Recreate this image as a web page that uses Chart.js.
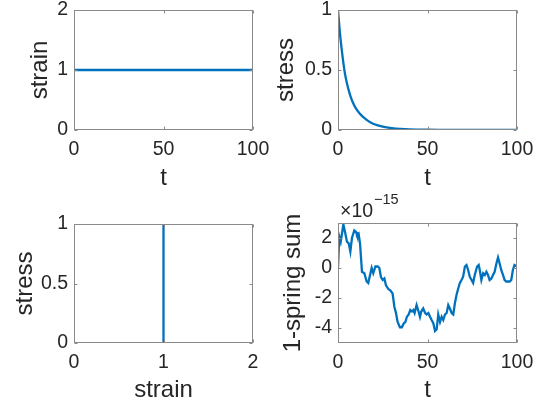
<!DOCTYPE html>
<html>
<head>
<meta charset="utf-8">
<script src="https://cdn.jsdelivr.net/npm/chart.js@4.4.1/dist/chart.umd.min.js"></script>
<style>
  html, body { margin: 0; padding: 0; background: #fff; }
  #fig { position: relative; width: 541px; height: 407px; }
  #fig canvas { position: absolute; }
</style>
</head>
<body>
<div id="fig">
  <canvas id="strainT" width="270" height="200" style="left:0;top:0"></canvas>
  <canvas id="stressT" width="271" height="200" style="left:270px;top:0"></canvas>
  <canvas id="stressStrain" width="270" height="217" style="left:0;top:190px"></canvas>
  <canvas id="springSum" width="271" height="217" style="left:270px;top:190px"></canvas>
</div>
<script>
// strain vs t (constant)
const strainTime = [0, 100];
const strainVals = [1, 1];

// stress relaxation
const stressTime = [0, 1, 2, 3, 4, 5, 6, 7, 8, 10, 12, 14, 16, 18, 20, 25, 30, 35, 40, 50, 60, 70, 80, 90, 100];
const stressVals = [1, 0.82, 0.68, 0.56, 0.46, 0.39, 0.33, 0.28, 0.24, 0.18, 0.14, 0.11, 0.085, 0.065, 0.05, 0.028, 0.016, 0.009, 0.005, 0.002, 0.001, 0, 0, 0, 0];

// stress vs strain (vertical line at strain = 1)
const ssStrain = [1, 1];
const ssStress = [0, 1];

// 1 - spring sum, in units of 1e-15
const sumExponent = -15;
const sumTime = [0, 0.7, 1.5, 2.1, 3.0, 4.1, 5.0, 6.0, 6.9, 7.8, 9.1, 10.1, 10.6, 11.5, 12.3, 13.4, 14.7, 16.0, 16.9, 17.9,
  18.8, 19.7, 20.9, 22.2, 23.1, 24.0, 25.0, 25.9, 26.8, 28.1, 29.3, 30.5, 31.5, 32.4, 33.3, 34.6, 35.7, 36.7, 37.6, 38.5,
  39.5, 40.4, 41.3, 42.1, 42.8, 43.9, 45.0, 45.8, 46.5, 47.6, 48.7, 49.5, 50.5, 51.4, 52.3, 53.3, 54.2, 55.1, 56.0, 57.0,
  57.9, 58.8, 59.8, 60.7, 61.6, 62.5, 63.5, 64.4, 65.3, 66.2, 67.2, 68.1, 69.0, 69.9, 70.9, 71.8, 72.7, 73.6, 74.6, 75.5,
  76.4, 77.7, 78.6, 79.2, 80.1, 81.1, 82.0, 82.9, 83.8, 84.7, 85.7, 86.6, 87.5, 88.5, 89.4, 90.3, 91.2, 92.2, 93.1, 94.0,
  95.9, 96.8, 97.7, 98.6, 100];
const sumVals = [0, 2.1, 1.75, 2.2, 2.9, 2.3, 1.75, 1.65, 1.1, 2.0, 2.5, 2.4, 2.2, 2.3, 1.65, -0.25, -0.35, -0.9, -1.0, -0.47,
  0, -0.35, 0.1, 0.1, 0, -0.6, -0.8, -0.7, -1.15, -1.4, -1.5, -1.7, -2.6, -3.0, -3.6, -3.95, -3.95, -3.7, -3.6, -3.25,
  -3.1, -2.8, -2.9, -2.8, -3.0, -2.47, -2.9, -3.25, -2.9, -2.7, -3.0, -3.1, -3.0, -3.25, -3.47, -3.7, -4.2, -4.1, -3.1, -3.6,
  -3.25, -3.47, -3.1, -3.0, -2.47, -2.7, -3.0, -3.1, -2.35, -1.8, -1.35, -1.0, -0.8, -0.58, 0.1, 0.2, -0.13, -0.58, -0.8, -1.0,
  -0.47, 0.1, 0.2, -0.13, -0.8, -0.35, -0.47, -0.25, -0.47, -0.8, -0.7, -0.47, -0.25, 0.3, 0.7, 0.3, -0.13, -0.47, -0.8, -0.9,
  -0.9, -0.8, -0.13, 0.2, 0.1];

// tick labels
const tTicks = [0, 50, 100];
const strainTicks = [0, 1, 2];
const stressTicks = [0, 0.5, 1];
const sumTicks = [-4, -2, 0, 2];

const BLUE = '#0072BD';
const TEXT = '#262626';
const FONT = "'Liberation Sans', Helvetica, Arial, sans-serif";

function pts(xs, ys) {
    return xs.map((x, i) => ({ x: x, y: ys[i] }));
}

// matlab style box with inward ticks on all four sides
const axesBox = {
    id: 'axesBox',
    afterDatasetsDraw(chart) {
        const ctx = chart.ctx;
        const a = chart.chartArea;
        const L = Math.round(a.left) + 0.5, R = Math.round(a.right) - 0.5;
        const T = Math.round(a.top) + 0.5, B = Math.round(a.bottom) - 0.5;
        ctx.save();
        ctx.strokeStyle = '#8a8a8a';
        ctx.lineWidth = 1;
        ctx.strokeRect(L, T, R - L, B - T);
        ctx.beginPath();
        chart.scales.x.ticks.forEach(t => {
            const px = Math.round(chart.scales.x.getPixelForValue(t.value)) + 0.5;
            ctx.moveTo(px, B); ctx.lineTo(px, B - 3);
            ctx.moveTo(px, T); ctx.lineTo(px, T + 3);
        });
        chart.scales.y.ticks.forEach(t => {
            const py = Math.round(chart.scales.y.getPixelForValue(t.value)) + 0.5;
            ctx.moveTo(L, py); ctx.lineTo(L + 3, py);
            ctx.moveTo(R, py); ctx.lineTo(R - 3, py);
        });
        ctx.stroke();
        ctx.restore();
    }
};

// "x10^-15" multiplier above the last panel
const exponentLabel = {
    id: 'exponentLabel',
    afterDraw(chart, args, opts) {
        if (!opts.text) return;
        const ctx = chart.ctx;
        const a = chart.chartArea;
        ctx.save();
        ctx.fillStyle = TEXT;
        ctx.textBaseline = 'alphabetic';
        ctx.textAlign = 'left';
        ctx.font = '19.5px ' + FONT;
        const base = '\u00d710';
        const x0 = a.left + 2, y0 = a.top - 6.3;
        ctx.fillText(base, x0, y0);
        const w = ctx.measureText(base).width;
        ctx.font = '14.5px ' + FONT;
        ctx.fillText(opts.text, x0 + w + 1, y0 - 13);
        ctx.restore();
    }
};

function panel(id, cfg) {
    const canvas = document.getElementById(id);
    const W = canvas.width, H = canvas.height;
    const tickFont = { family: FONT, size: 19.5, lineHeight: 1 };
    const titleFont = { family: FONT, size: 24 };
    return new Chart(canvas, {
        type: 'scatter',
        data: {
            datasets: [{
                data: cfg.points,
                showLine: true,
                borderColor: BLUE,
                borderWidth: 2.3,
                pointRadius: 0,
                fill: false,
                cubicInterpolationMode: cfg.smooth ? 'monotone' : 'default',
                tension: 0
            }]
        },
        options: {
            responsive: false,
            animation: false,
            events: [],
            layout: { padding: { top: cfg.area.top, right: W - cfg.area.right, left: 0, bottom: 0 } },
            plugins: {
                legend: { display: false },
                tooltip: { enabled: false },
                exponentLabel: { text: cfg.exponent || '' }
            },
            scales: {
                x: {
                    type: 'linear',
                    min: cfg.xRange[0],
                    max: cfg.xRange[1],
                    afterBuildTicks: s => { s.ticks = cfg.xTicks.map(v => ({ value: v })); },
                    afterFit: s => { s.height = H - cfg.area.bottom; s.paddingLeft = 0; s.paddingRight = 0; },
                    grid: { display: false, drawTicks: false },
                    border: { display: false },
                    ticks: { font: tickFont, color: TEXT, padding: 10, maxRotation: 0, autoSkip: false, callback: v => String(v) },
                    title: { display: true, text: cfg.xTitle, font: titleFont, color: TEXT, padding: { top: 0, bottom: cfg.xTitlePad } }
                },
                y: {
                    type: 'linear',
                    min: cfg.yRange[0],
                    max: cfg.yRange[1],
                    afterBuildTicks: s => { s.ticks = cfg.yTicks.map(v => ({ value: v })); },
                    afterFit: s => { s.width = cfg.area.left; s.paddingTop = 0; s.paddingBottom = 0; },
                    grid: { display: false, drawTicks: false },
                    border: { display: false },
                    ticks: { font: tickFont, color: TEXT, padding: 6, autoSkip: false, callback: v => String(v) },
                    title: { display: true, text: cfg.yTitle, font: titleFont, color: TEXT, padding: { top: cfg.yTitlePad, bottom: 0 } }
                }
            }
        },
        plugins: [axesBox, exponentLabel]
    });
}

panel('strainT', {
    points: pts(strainTime, strainVals),
    area: { left: 74, right: 253, top: 10, bottom: 130 },
    xRange: [0, 100], yRange: [0, 2],
    xTicks: tTicks, yTicks: strainTicks,
    xTitle: 't', yTitle: 'strain',
    xTitlePad: 7.3, yTitlePad: 25.5
});

panel('stressT', {
    points: pts(stressTime, stressVals),
    smooth: true,
    area: { left: 68, right: 247, top: 10, bottom: 130 },
    xRange: [0, 100], yRange: [0, 1],
    xTicks: tTicks, yTicks: stressTicks,
    xTitle: 't', yTitle: 'stress',
    xTitlePad: 7.3, yTitlePad: 2.2
});

panel('stressStrain', {
    points: pts(ssStrain, ssStress),
    area: { left: 74, right: 253, top: 34, bottom: 153 },
    xRange: [0, 2], yRange: [0, 1],
    xTicks: strainTicks, yTicks: stressTicks,
    xTitle: 'strain', yTitle: 'stress',
    xTitlePad: 2.7, yTitlePad: 10.5
});

panel('springSum', {
    points: pts(sumTime, sumVals),
    area: { left: 68, right: 247, top: 33, bottom: 153 },
    xRange: [0, 100], yRange: [-5, 3],
    xTicks: tTicks, yTicks: sumTicks,
    xTitle: 't', yTitle: '1-spring sum',
    xTitlePad: 2.7, yTitlePad: 9.2,
    exponent: '\u2212' + String(-sumExponent)
});
</script>
</body>
</html>
